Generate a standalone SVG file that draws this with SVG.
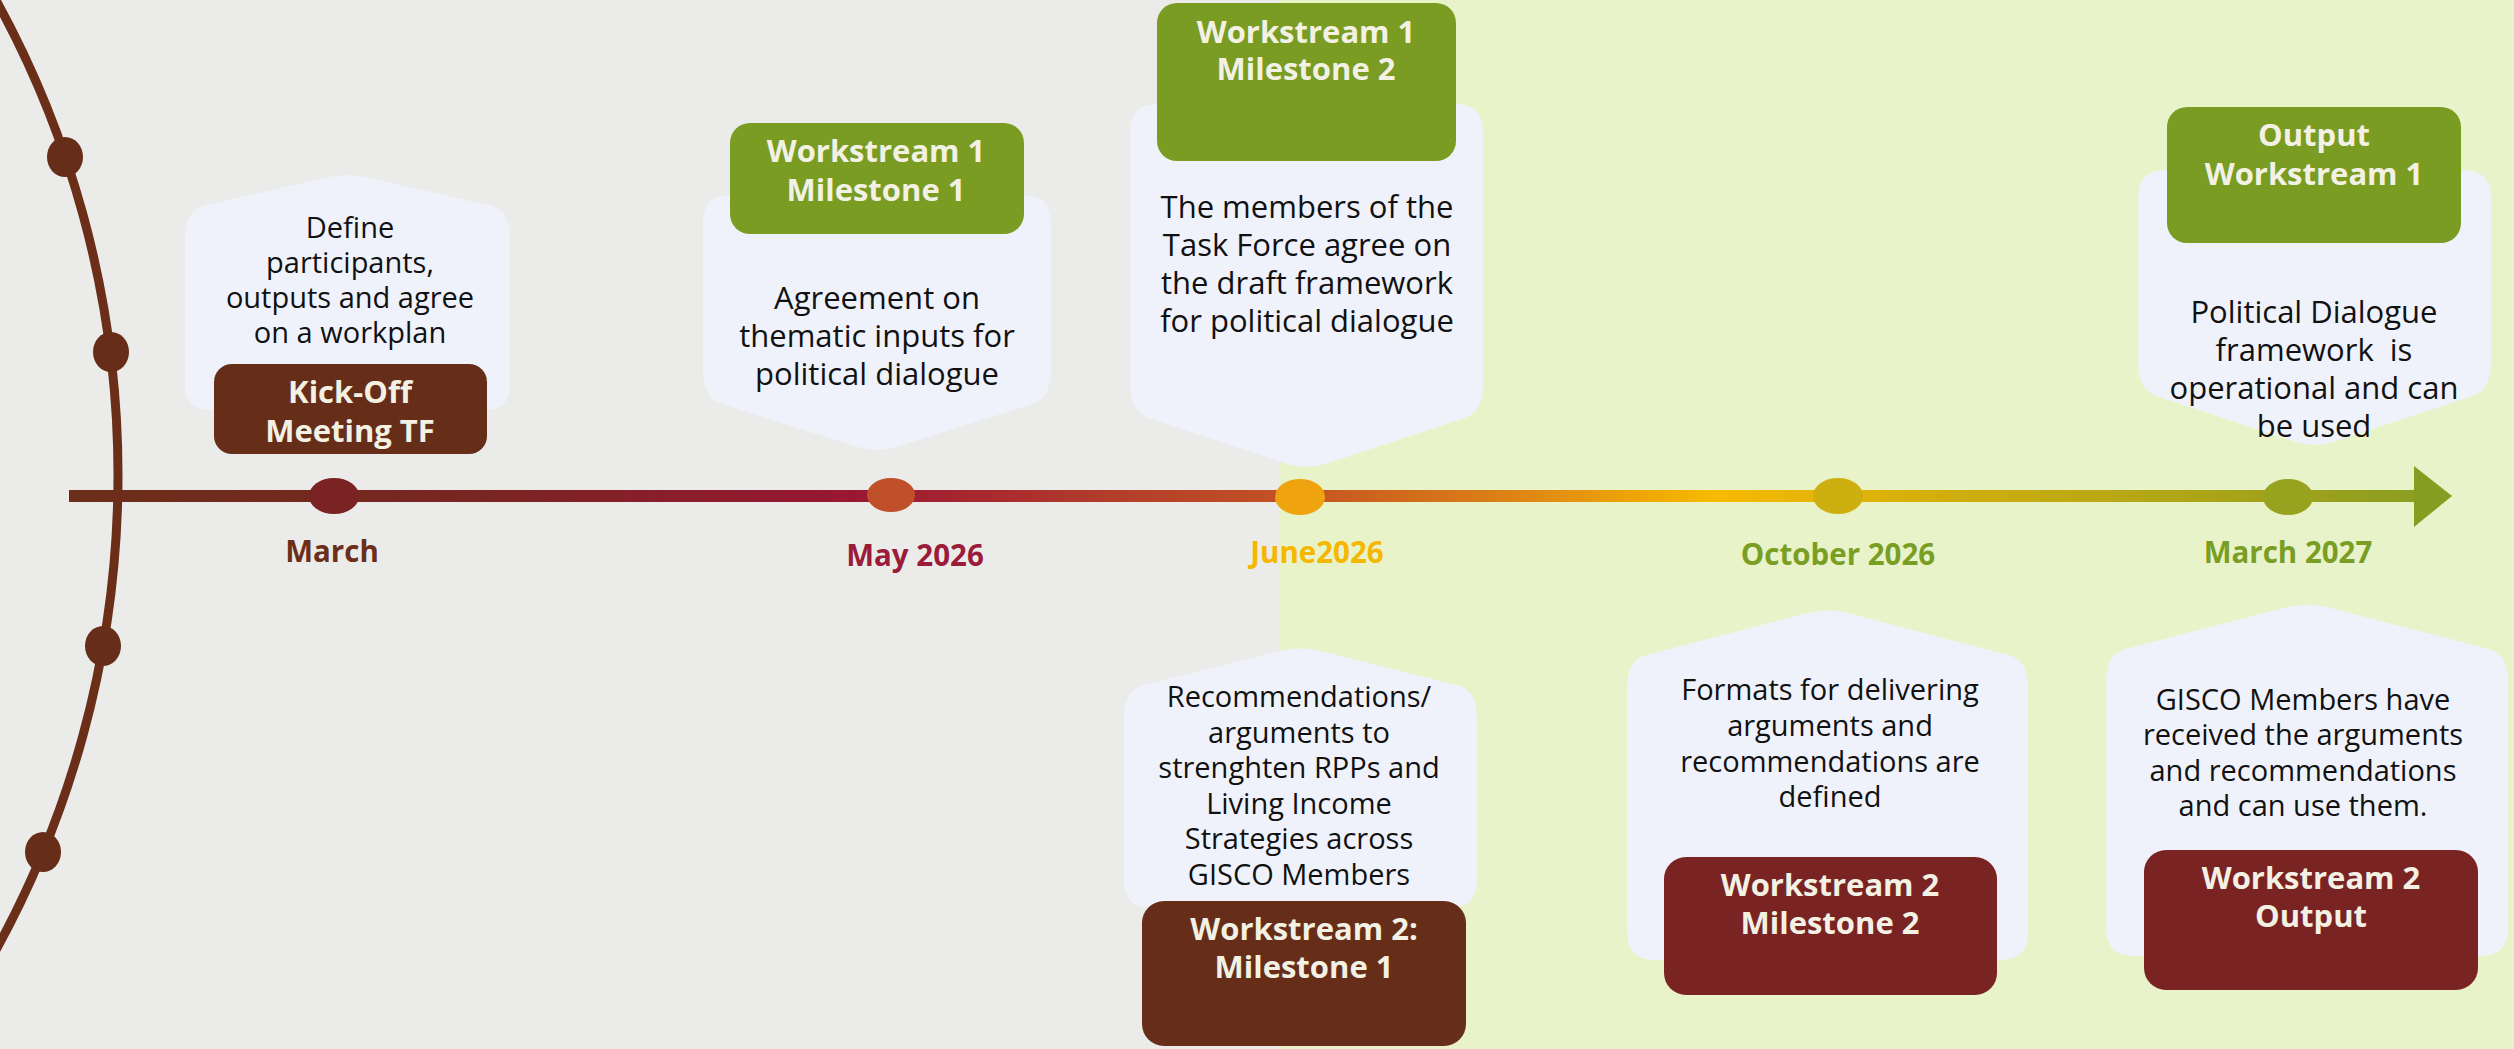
<svg xmlns="http://www.w3.org/2000/svg" width="2514" height="1049" viewBox="0 0 2514 1049">
<defs>
<linearGradient id="tl" gradientUnits="userSpaceOnUse" x1="69" y1="0" x2="2452" y2="0">
<stop offset="0" stop-color="#6B2F19"/>
<stop offset="0.18" stop-color="#7A2423"/>
<stop offset="0.33" stop-color="#9A1733"/>
<stop offset="0.43" stop-color="#B23A2B"/>
<stop offset="0.52" stop-color="#C65424"/>
<stop offset="0.60" stop-color="#DC8015"/>
<stop offset="0.69" stop-color="#F7BA02"/>
<stop offset="0.79" stop-color="#D0AE0E"/>
<stop offset="0.92" stop-color="#A3A21A"/>
<stop offset="1" stop-color="#879D22"/>
</linearGradient>
</defs>
<style>
.t{font-family:"Open Sans","Liberation Sans",sans-serif;text-anchor:middle}
.body{font-size:29px;fill:#111}
.big{font-size:31px}
.bx{font-size:31px;font-weight:700;fill:#F3F1E3}
.date{font-size:29.5px;font-weight:700}
.callout{fill:#EFF2FB}
.green{fill:#7A9C23}
.brown{fill:#662E18}
.red{fill:#7A2323}
.arcdot{fill:#662E18}
</style>
<g id="background">
<rect x="0" y="0" width="1280" height="1049" fill="#EBECEA"/>
<rect x="1280" y="0" width="1234" height="1049" fill="#E8F3C9"/>
</g>
<g id="connectors">
<path d="M -15.4 -20 A 985 985 0 0 1 -15.4 970" fill="none" stroke="#6B2F19" stroke-width="9"/>
<ellipse class="arcdot" cx="65" cy="157" rx="18" ry="20"/>
<ellipse class="arcdot" cx="111" cy="352" rx="18" ry="20"/>
<ellipse class="arcdot" cx="103" cy="646" rx="18" ry="20"/>
<ellipse class="arcdot" cx="43" cy="852" rx="18" ry="20"/>
<rect x="69" y="490" width="2352" height="12" fill="url(#tl)"/>
<polygon points="2414,466 2452,496 2414,527" fill="#879D22"/>
</g>
<g id="node-march">
<path class="callout" d="M185,385 L185,238 Q185,210 205,205.5 L327,177.5 Q347,173 367,177.5 L490,205.5 Q510,210 510,238 L510,385 Q510,410 485,410 L210,410 Q185,410 185,385 Z"/>
<text class="t body" x="350"><tspan x="350" y="238">Define</tspan><tspan x="350" y="273">participants,</tspan><tspan x="350" y="308">outputs and agree</tspan><tspan x="350" y="343">on a workplan</tspan></text>
<rect class="brown" x="214" y="364" width="273" height="90" rx="18"/>
<text class="t bx"><tspan x="350" y="403">Kick-Off</tspan><tspan x="350" y="442">Meeting TF</tspan></text>
<ellipse cx="334" cy="496" rx="25" ry="18" fill="#7B2224"/>
<text class="t date" x="332" y="562" fill="#6B2F19">March</text>
</g>
<g id="node-may2026">
<path class="callout" d="M703,223 Q703,195 731,195 L1023,195 Q1051,195 1051,223 L1051,370 Q1051,398 1031.9,404 L896.1,447 Q877,453 857.9,447 L722.1,404 Q703,398 703,370 Z"/>
<rect class="green" x="730" y="123" width="294" height="111" rx="20"/>
<text class="t bx"><tspan x="876" y="162">Workstream 1</tspan><tspan x="876" y="201">Milestone 1</tspan></text>
<text class="t body big"><tspan x="877" y="309">Agreement on</tspan><tspan x="877" y="347">thematic inputs for</tspan><tspan x="877" y="385">political dialogue</tspan></text>
<ellipse cx="891" cy="495" rx="24" ry="17" fill="#C0502A"/>
<text class="t date" x="915" y="566" fill="#9B1B3A">May 2026</text>
</g>
<g id="node-june2026">
<path class="callout" d="M1130,132 Q1130,104 1158,104 L1455,104 Q1483,104 1483,132 L1483,384 Q1483,412 1464,418.2 L1326,463.8 Q1306.5,470 1287,463.8 L1149,418.2 Q1130,412 1130,384 Z"/>
<rect class="green" x="1157" y="3" width="299" height="158" rx="20"/>
<text class="t bx"><tspan x="1306" y="43">Workstream 1</tspan><tspan x="1306" y="80">Milestone 2</tspan></text>
<text class="t body big"><tspan x="1307" y="218">The members of the</tspan><tspan x="1307" y="256">Task Force agree on</tspan><tspan x="1307" y="294">the draft framework</tspan><tspan x="1307" y="332">for political dialogue</tspan></text>
<ellipse cx="1300" cy="497" rx="25" ry="18" fill="#EFA30F"/>
<text class="t date" x="1317" y="563" fill="#F5B700">June2026</text>
<path class="callout" d="M1124,880 L1124,718 Q1124,690 1143.4,685.2 L1281,650.8 Q1300.5,646 1320,650.8 L1457.6,685.2 Q1477,690 1477,718 L1477,880 Q1477,908 1449,908 L1152,908 Q1124,908 1124,880 Z"/>
<text class="t body"><tspan x="1299" y="707">Recommendations/</tspan><tspan x="1299" y="742.5">arguments to</tspan><tspan x="1299" y="778">strenghten RPPs and</tspan><tspan x="1299" y="813.5">Living Income</tspan><tspan x="1299" y="849">Strategies across</tspan><tspan x="1299" y="884.5">GISCO Members</tspan></text>
<rect class="brown" x="1142" y="901" width="324" height="145" rx="22"/>
<text class="t bx"><tspan x="1304" y="940">Workstream 2:</tspan><tspan x="1304" y="978">Milestone 1</tspan></text>
</g>
<g id="node-october2026">
<ellipse cx="1838" cy="496" rx="25" ry="18" fill="#CDB00F"/>
<text class="t date" x="1838" y="565" fill="#7A9E24">October 2026</text>
<path class="callout" d="M1627,932 L1627,688 Q1627,660 1646.4,655 L1808,613 Q1827.5,608 1847,613 L2008.6,655 Q2028,660 2028,688 L2028,932 Q2028,960 2000,960 L1655,960 Q1627,960 1627,932 Z"/>
<text class="t body"><tspan x="1830" y="700">Formats for delivering</tspan><tspan x="1830" y="736">arguments and</tspan><tspan x="1830" y="772">recommendations are</tspan><tspan x="1830" y="807">defined</tspan></text>
<rect class="red" x="1664" y="857" width="333" height="138" rx="22"/>
<text class="t bx"><tspan x="1830" y="896">Workstream 2</tspan><tspan x="1830" y="934">Milestone 2</tspan></text>
</g>
<g id="node-march2027">
<path class="callout" d="M2138,198 Q2138,170 2166,170 L2463,170 Q2491,170 2491,198 L2491,362 Q2491,390 2472,396.2 L2334,441.8 Q2314.5,448 2295,441.8 L2157,396.2 Q2138,390 2138,362 Z"/>
<rect class="green" x="2167" y="107" width="294" height="136" rx="20"/>
<text class="t bx"><tspan x="2314" y="146">Output</tspan><tspan x="2314" y="185">Workstream 1</tspan></text>
<text class="t body big" xml:space="preserve"><tspan x="2314" y="323">Political Dialogue</tspan><tspan x="2314" y="361">framework  is</tspan><tspan x="2314" y="399">operational and can</tspan><tspan x="2314" y="437">be used</tspan></text>
<ellipse cx="2288" cy="497" rx="25" ry="18" fill="#97A21E"/>
<text class="t date" x="2288" y="563" fill="#7A9E24">March 2027</text>
<path class="callout" d="M2106,928 L2106,682 Q2106,654 2125.4,649 L2287.5,607 Q2307,602 2326.5,607 L2488.6,649 Q2508,654 2508,682 L2508,928 Q2508,956 2480,956 L2134,956 Q2106,956 2106,928 Z"/>
<text class="t body"><tspan x="2303" y="710">GISCO Members have</tspan><tspan x="2303" y="745">received the arguments</tspan><tspan x="2303" y="781">and recommendations</tspan><tspan x="2303" y="816">and can use them.</tspan></text>
<rect class="red" x="2144" y="850" width="334" height="140" rx="22"/>
<text class="t bx"><tspan x="2311" y="889">Workstream 2</tspan><tspan x="2311" y="927">Output</tspan></text>
</g>
</svg>
